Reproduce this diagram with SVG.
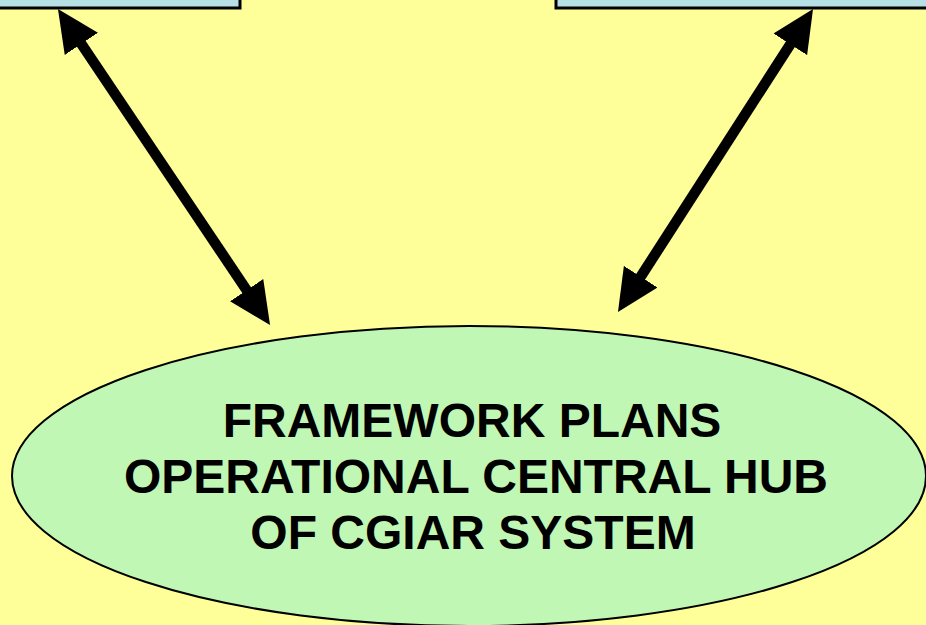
<svg xmlns="http://www.w3.org/2000/svg" width="926" height="625" viewBox="0 0 926 625">
  <style>
    .box { fill: #B7DFE6; stroke: #000; stroke-width: 3; }
    .hub { fill: #C1F7B4; stroke: #000; stroke-width: 2; }
    .link { stroke: #000; stroke-width: 10.5; fill: none; }
    .label { font-family: "Liberation Sans", Arial, sans-serif; font-weight: bold; font-size: 48px; fill: #000; text-anchor: middle; }
  </style>
  <defs>
    <!-- solid triangular head; tip sits 20px beyond the line end -->
    <marker id="head" markerUnits="userSpaceOnUse" markerWidth="42" markerHeight="42" refX="22" refY="21" orient="auto-start-reverse" viewBox="0 0 42 42">
      <polygon points="0,1 42,21 0,41" fill="#000"/>
    </marker>
  </defs>
  <rect width="926" height="625" fill="#FFFF99"/>

  <g id="box-left">
    <rect class="box" x="-10" y="-10" width="250" height="18"/>
  </g>
  <g id="box-right">
    <rect class="box" x="556" y="-10" width="380" height="18"/>
  </g>

  <g id="connectors">
    <line class="link" x1="69.1" y1="25.6" x2="258.9" y2="308.4" marker-start="url(#head)" marker-end="url(#head)"/>
    <line class="link" x1="802.2" y1="25.8" x2="628.8" y2="295.2" marker-start="url(#head)" marker-end="url(#head)"/>
  </g>

  <g id="hub">
    <ellipse class="hub" cx="469" cy="476" rx="457" ry="150"/>
    <text class="label" x="472" y="437">FRAMEWORK PLANS</text>
    <text class="label" x="476" y="493">OPERATIONAL CENTRAL HUB</text>
    <text class="label" x="473" y="549">OF CGIAR SYSTEM</text>
  </g>
</svg>
